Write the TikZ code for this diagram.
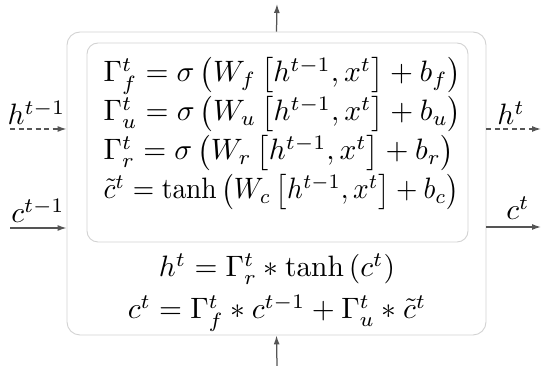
\documentclass[tikz,border=0pt]{standalone}
\usepackage{amsmath}
\usetikzlibrary{arrows.meta,calc}
\definecolor{boxgray}{HTML}{D2D2D2}
\definecolor{arrgray}{HTML}{555555}
\tikzset{
  cellbox/.style={draw=boxgray, line width=0.9pt, rounded corners=13pt, inner sep=0pt},
  gatebox/.style={draw=boxgray, line width=0.9pt, rounded corners=11pt, inner sep=0pt},
  arr/.style={draw=arrgray, line width=1.25pt, -{Latex[length=9pt,width=6pt]}},
  dasharr/.style={arr, dash pattern=on 5pt off 3.5pt},
  eq/.style={inner sep=0pt, xscale=2.95, yscale=2.95},
  eqnarrow/.style={inner sep=0pt, xscale=2.75, yscale=2.95},
}
\begin{document}
\begin{tikzpicture}[x=1pt,y=1pt]
\useasboundingbox (0,0) rectangle (541,366);
% outer cell
\node[cellbox, minimum width=419pt, minimum height=303pt] (cell) at (276.5,182.5) {};
% inner gates box
\node[gatebox, minimum width=381pt, minimum height=199pt] (gates) at (277.5,223.5) {};
% gate equations
\node[eq, anchor=base west] (gf) at (103,284) {$\Gamma_f^t = \sigma\left(W_f\left[h^{t-1},x^t\right]+b_f\right)$};
\node[eq, anchor=base west] (gu) at (103,245) {$\Gamma_u^t = \sigma\left(W_u\left[h^{t-1},x^t\right]+b_u\right)$};
\node[eq, anchor=base west] (gr) at (103,206) {$\Gamma_r^t = \sigma\left(W_r\left[h^{t-1},x^t\right]+b_r\right)$};
\node[eqnarrow, anchor=base west] (gc) at (103,167) {$\tilde{c}^t = \tanh\left(W_c\left[h^{t-1},x^t\right]+b_c\right)$};
% output equations
\node[eq, anchor=base] (eh) at (277,89) {$h^t = \Gamma_r^t * \tanh\left(c^t\right)$};
\node[eq, anchor=base] (ec) at (277,47) {$c^t = \Gamma_f^t * c^{t-1} + \Gamma_u^t * \tilde{c}^t$};
% free ends
\coordinate (topend) at (277,362);
\coordinate (botend) at (277,0);
\coordinate (hin) at (10,237);
\coordinate (cin) at (10,138);
\coordinate (hout) at (541,237);
\coordinate (cout) at (541,139);
% arrows
\draw[arr] (cell.north) -- (topend);
\draw[arr] (botend) -- (cell.south);
\draw[dasharr] (hin) -- (hin -| cell.west);
\draw[arr] (cin) -- (cin -| cell.west);
\draw[dasharr] (hout -| cell.east) -- (hout);
\draw[arr] (cout -| cell.east) -- (cout);
% labels
\node[eq, anchor=base] (lh1) at (36.5,241) {$h^{t-1}$};
\node[eq, anchor=base] (lc1) at (38,143) {$c^{t-1}$};
\node[eq, anchor=base] (lh) at (511,241) {$h^t$};
\node[eq, anchor=base] (lc) at (518,146) {$c^t$};
\end{tikzpicture}
\end{document}
